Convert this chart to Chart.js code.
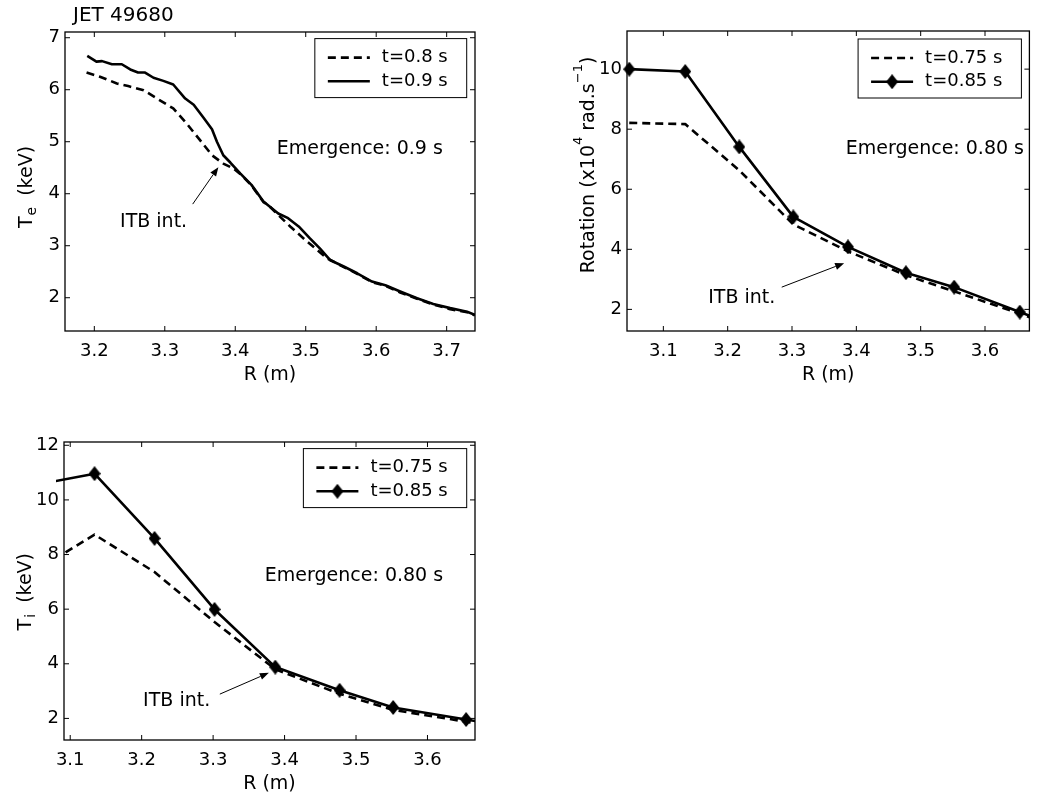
<!DOCTYPE html>
<html>
<head>
<meta charset="utf-8">
<script src="https://cdn.jsdelivr.net/npm/chart.js@4.4.0/dist/chart.umd.min.js"></script>
<style>
  html, body { margin: 0; padding: 0; background: #fff; }
  body { width: 1039px; height: 803px; position: relative; overflow: hidden; }
  canvas { position: absolute; }
</style>
</head>
<body>
<canvas id="teChart" width="520" height="400" style="left:0;top:0"></canvas>
<canvas id="rotChart" width="519" height="400" style="left:520px;top:0"></canvas>
<canvas id="tiChart" width="520" height="403" style="left:0;top:400px"></canvas>
<script>
// JET 49680 - electron temperature (ECE), two times
const teR_08 = [3.189, 3.208, 3.232, 3.248, 3.270, 3.289, 3.312, 3.331, 3.350, 3.367, 3.383, 3.397,
    3.407, 3.423, 3.440, 3.447, 3.461, 3.478, 3.497, 3.516, 3.530, 3.554, 3.573, 3.594, 3.613,
    3.634, 3.658, 3.681, 3.705, 3.729, 3.740];
const te_08 = [6.33, 6.25, 6.12, 6.07, 5.99, 5.83, 5.64, 5.35, 5.03, 4.74, 4.58, 4.49,
    4.38, 4.16, 3.84, 3.78, 3.59, 3.37, 3.14, 2.92, 2.76, 2.59, 2.46, 2.30, 2.23,
    2.10, 1.98, 1.87, 1.78, 1.72, 1.66];
const teR_09 = [3.190, 3.203, 3.211, 3.225, 3.239, 3.251, 3.262, 3.272, 3.284, 3.298, 3.312, 3.329,
    3.341, 3.355, 3.367, 3.374, 3.383, 3.393, 3.407, 3.423, 3.440, 3.461, 3.475, 3.490, 3.506,
    3.520, 3.535, 3.554, 3.573, 3.594, 3.613, 3.634, 3.658, 3.681, 3.705, 3.729, 3.740];
const te_09 = [6.65, 6.54, 6.55, 6.49, 6.49, 6.39, 6.33, 6.33, 6.23, 6.17, 6.10, 5.83,
    5.71, 5.46, 5.24, 5.00, 4.74, 4.60, 4.39, 4.17, 3.85, 3.62, 3.53, 3.37, 3.14,
    2.95, 2.72, 2.60, 2.47, 2.31, 2.24, 2.12, 1.99, 1.88, 1.80, 1.73, 1.67];

// CX radii, shared by rotation and Ti
const cxR = [3.047, 3.134, 3.218, 3.302, 3.387, 3.477, 3.552, 3.654, 3.745];
const rot_075 = [8.21, 8.17, 6.63, 4.83, 3.93, 3.14, 2.60, 1.86, 1.15];
const rot_085 = [10.0, 9.92, 7.41, 5.08, 4.08, 3.22, 2.74, 1.91, 1.20];
const ti_075 = [7.33, 8.73, 7.36, 5.53, 3.80, 2.90, 2.31, 1.88, 1.45];
const ti_085 = [10.53, 10.96, 8.59, 5.99, 3.88, 3.03, 2.40, 1.96, 1.55];

// tick labels
const teXTicks = [3.2, 3.3, 3.4, 3.5, 3.6, 3.7];
const teYTicks = [2, 3, 4, 5, 6, 7];
const cxXTicks = [3.1, 3.2, 3.3, 3.4, 3.5, 3.6];
const rotYTicks = [2, 4, 6, 8, 10];
const tiYTicks = [2, 4, 6, 8, 10, 12];

const FONT = '"DejaVu Sans", sans-serif';

function pts(xs, ys) {
    return xs.map((x, i) => ({ x: x, y: ys[i] }));
}

// filled diamond marker, a bit taller than wide
function makeDiamond(w, h) {
    const c = document.createElement('canvas');
    c.width = w; c.height = h;
    const g = c.getContext('2d');
    g.fillStyle = '#000';
    g.beginPath();
    g.moveTo(w / 2, 0); g.lineTo(w, h / 2); g.lineTo(w / 2, h); g.lineTo(0, h / 2);
    g.closePath();
    g.fill();
    return c;
}
const diamondMark = makeDiamond(12, 15);

function dashedSet(label, data) {
    return {
        label: label, data: data,
        borderColor: '#000', borderWidth: 2.6, borderDash: [8, 5],
        borderJoinStyle: 'round', pointRadius: 0, tension: 0
    };
}

function solidSet(label, data, marker) {
    const d = {
        label: label, data: data,
        borderColor: '#000', borderWidth: 2.6,
        borderJoinStyle: 'round', pointRadius: 0, tension: 0
    };
    if (marker) {
        d.pointStyle = diamondMark;
        d.pointRadius = 7;
        d.pointHoverRadius = 7;
        d.clip = { left: 8, top: 0, right: 0, bottom: 0 };
    }
    return d;
}

// text with sub/superscripts, rotated to read bottom-up
function drawRotated(ctx, parts, x, yMid) {
    let total = 0;
    parts.forEach(p => {
        ctx.font = p.size + 'px ' + FONT;
        p.w = ctx.measureText(p.t).width + (p.gap || 0);
        total += p.w;
    });
    ctx.save();
    ctx.translate(x, yMid + total / 2);
    ctx.rotate(-Math.PI / 2);
    ctx.textAlign = 'left';
    ctx.textBaseline = 'alphabetic';
    ctx.fillStyle = '#000';
    let cx = 0;
    parts.forEach(p => {
        ctx.font = p.size + 'px ' + FONT;
        ctx.fillText(p.t, cx, p.dy || 0);
        cx += p.w;
    });
    ctx.restore();
}

function drawArrow(ctx, x0, y0, x1, y1) {
    const ang = Math.atan2(y1 - y0, x1 - x0);
    const len = 9, half = 3.5;
    const bx = x1 - len * Math.cos(ang), by = y1 - len * Math.sin(ang);
    ctx.lineWidth = 1;
    ctx.beginPath(); ctx.moveTo(x0, y0); ctx.lineTo(bx, by); ctx.stroke();
    ctx.beginPath();
    ctx.moveTo(x1, y1);
    ctx.lineTo(bx + half * Math.sin(ang), by - half * Math.cos(ang));
    ctx.lineTo(bx - half * Math.sin(ang), by + half * Math.cos(ang));
    ctx.closePath();
    ctx.fill();
}

function drawLegend(ctx, chart, inset) {
    const a = chart.chartArea;
    ctx.font = '18px ' + FONT;
    const sets = chart.data.datasets;
    const tw = Math.max(...sets.map(d => ctx.measureText(d.label).width));
    const w = 67 + tw + 19, h = 59;
    const left = a.right - inset.right - w, top = a.top + inset.top;
    ctx.fillStyle = '#fff';
    ctx.fillRect(left, top, w, h);
    ctx.strokeStyle = '#000';
    ctx.lineWidth = 1;
    ctx.strokeRect(left, top, w, h);
    sets.forEach((d, i) => {
        const y = top + 19 + i * 23.7;
        ctx.save();
        ctx.lineWidth = d.borderWidth;
        ctx.setLineDash(d.borderDash || []);
        ctx.beginPath(); ctx.moveTo(left + 13, y); ctx.lineTo(left + 55, y); ctx.stroke();
        ctx.restore();
        if (d.pointRadius > 0) ctx.drawImage(diamondMark, left + 34 - 6, y - 7.5);
        ctx.fillStyle = '#000';
        ctx.textAlign = 'left';
        ctx.textBaseline = 'middle';
        ctx.fillText(d.label, left + 67, y);
    });
}

// frame, inward ticks, axis labels, legend and notes (matlab look)
function overlay(spec) {
    return {
        id: 'overlay',
        afterDraw(chart) {
            const ctx = chart.ctx, a = chart.chartArea;
            const xs = chart.scales.x, ys = chart.scales.y;
            ctx.save();
            ctx.strokeStyle = '#000';
            ctx.fillStyle = '#000';
            ctx.lineWidth = 1.3;
            ctx.strokeRect(a.left, a.top, a.right - a.left, a.bottom - a.top);

            ctx.lineWidth = 1;
            ctx.beginPath();
            xs.ticks.forEach(t => {
                const p = xs.getPixelForValue(t.value);
                ctx.moveTo(p, a.bottom); ctx.lineTo(p, a.bottom - 5);
                ctx.moveTo(p, a.top); ctx.lineTo(p, a.top + 5);
            });
            ys.ticks.forEach(t => {
                const p = ys.getPixelForValue(t.value);
                ctx.moveTo(a.left, p); ctx.lineTo(a.left + 5, p);
                ctx.moveTo(a.right, p); ctx.lineTo(a.right - 5, p);
            });
            ctx.stroke();

            ctx.font = '19px ' + FONT;
            ctx.textAlign = 'center';
            ctx.textBaseline = 'alphabetic';
            ctx.fillText('R (m)', (a.left + a.right) / 2, a.bottom + 49);

            drawRotated(ctx, spec.yLabel, a.left - 33, spec.yMid);

            if (spec.title) {
                ctx.font = '20px ' + FONT;
                ctx.textAlign = 'left';
                ctx.fillText(spec.title, 73, 21);
            }

            drawLegend(ctx, chart, spec.inset);

            ctx.fillStyle = '#000';
            ctx.strokeStyle = '#000';
            ctx.font = '19px ' + FONT;
            ctx.textAlign = 'left';
            ctx.textBaseline = 'alphabetic';
            spec.notes.forEach(n => {
                ctx.fillText(n.text, xs.getPixelForValue(n.x), ys.getPixelForValue(n.y));
            });
            spec.arrows.forEach(r => {
                drawArrow(ctx, xs.getPixelForValue(r[0]), ys.getPixelForValue(r[1]),
                    xs.getPixelForValue(r[2]), ys.getPixelForValue(r[3]));
            });
            ctx.restore();
        }
    };
}

function makeChart(id, datasets, box, ranges, spec) {
    const canvas = document.getElementById(id);
    const H = canvas.height, W = canvas.width;
    return new Chart(canvas.getContext('2d'), {
        type: 'line',
        data: { datasets: datasets },
        options: {
            responsive: false,
            animation: false,
            devicePixelRatio: 1,
            layout: { padding: { top: box.top, right: W - box.right, left: 0, bottom: 0 } },
            plugins: { legend: { display: false }, tooltip: { enabled: false } },
            scales: {
                x: {
                    type: 'linear',
                    min: ranges.x[0], max: ranges.x[1],
                    grid: { display: false, drawTicks: false },
                    border: { display: false },
                    afterBuildTicks: s => { s.ticks = ranges.xTicks.map(v => ({ value: v })); },
                    afterFit: s => { s.height = H - box.bottom; },
                    ticks: {
                        autoSkip: false, maxRotation: 0, padding: 10, color: '#000',
                        font: { family: FONT, size: 18 },
                        callback: v => String(v)
                    }
                },
                y: {
                    type: 'linear',
                    min: ranges.y[0], max: ranges.y[1],
                    grid: { display: false, drawTicks: false },
                    border: { display: false },
                    afterBuildTicks: s => { s.ticks = ranges.yTicks.map(v => ({ value: v })); },
                    afterFit: s => { s.width = box.left; },
                    ticks: {
                        autoSkip: false, padding: 5, color: '#000',
                        font: { family: FONT, size: 18 },
                        callback: v => String(v)
                    }
                }
            }
        },
        plugins: [overlay(spec)]
    });
}

makeChart('teChart',
    [dashedSet('t=0.8 s', pts(teR_08, te_08)), solidSet('t=0.9 s', pts(teR_09, te_09), false)],
    { left: 65, top: 32, right: 475, bottom: 331 },
    { x: [3.1584, 3.7402], y: [1.36, 7.11], xTicks: teXTicks, yTicks: teYTicks },
    {
        title: 'JET 49680',
        yLabel: [{ t: 'T', size: 19, gap: 1 }, { t: 'e', size: 14, dy: 4, gap: 5 }, { t: ' (keV)', size: 19 }],
        yMid: 187,
        inset: { right: 8.3, top: 6.6 },
        notes: [{ text: 'Emergence: 0.9 s', x: 3.4588, y: 4.76 }, { text: 'ITB int.', x: 3.2365, y: 3.365 }],
        arrows: [[3.3396, 3.80, 3.376, 4.51]]
    });

makeChart('rotChart',
    [dashedSet('t=0.75 s', pts(cxR, rot_075)), solidSet('t=0.85 s', pts(cxR, rot_085), true)],
    { left: 107, top: 31, right: 517, bottom: 331 },
    { x: [3.0435, 3.669], y: [1.28, 11.27], xTicks: cxXTicks, yTicks: rotYTicks },
    {
        yLabel: [{ t: 'Rotation (x10', size: 19 }, { t: '4', size: 13, dy: -12 },
            { t: ' rad.s', size: 19 }, { t: '\u22121', size: 13, dy: -12 }, { t: ')', size: 19 }],
        yMid: 165,
        inset: { right: 8, top: 8 },
        notes: [{ text: 'Emergence: 0.80 s', x: 3.3835, y: 7.19 }, { text: 'ITB int.', x: 3.1698, y: 2.21 }],
        arrows: [[3.284, 2.74, 3.381, 3.54]]
    });

makeChart('tiChart',
    [dashedSet('t=0.75 s', pts(cxR, ti_075)), solidSet('t=0.85 s', pts(cxR, ti_085), true)],
    { left: 64, top: 42, right: 475, bottom: 340 },
    { x: [3.0913, 3.6665], y: [1.21, 12.12], xTicks: cxXTicks, yTicks: tiYTicks },
    {
        yLabel: [{ t: 'T', size: 19, gap: 1 }, { t: 'i', size: 14, dy: 4, gap: 5 }, { t: ' (keV)', size: 19 }],
        yMid: 191.7,
        inset: { right: 8.3, top: 6.6 },
        notes: [{ text: 'Emergence: 0.80 s', x: 3.3724, y: 7.03 }, { text: 'ITB int.', x: 3.202, y: 2.45 }],
        arrows: [[3.3094, 2.89, 3.378, 3.67]]
    });
</script>
</body>
</html>
